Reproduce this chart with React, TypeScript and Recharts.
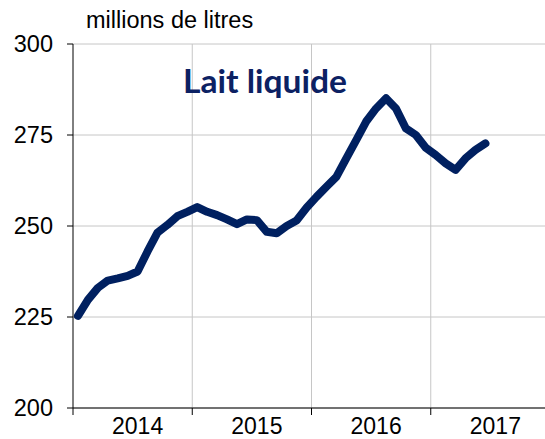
import { CartesianGrid, Line, LineChart, ReferenceLine, XAxis, YAxis } from "recharts"

// monthly volumes, Jan 2014 -> Jun 2017
const months = [
  "2014-01", "2014-02", "2014-03", "2014-04", "2014-05", "2014-06",
  "2014-07", "2014-08", "2014-09", "2014-10", "2014-11", "2014-12",
  "2015-01", "2015-02", "2015-03", "2015-04", "2015-05", "2015-06",
  "2015-07", "2015-08", "2015-09", "2015-10", "2015-11", "2015-12",
  "2016-01", "2016-02", "2016-03", "2016-04", "2016-05", "2016-06",
  "2016-07", "2016-08", "2016-09", "2016-10", "2016-11", "2016-12",
  "2017-01", "2017-02", "2017-03", "2017-04", "2017-05", "2017-06",
]

const volumes = [
  225.3, 229.7, 233, 235, 235.6, 236.3, 237.5, 243, 248.2, 250.3, 252.7, 253.9,
  255.2, 253.9, 253, 251.8, 250.5, 251.8, 251.6, 248.4, 248, 250, 251.5, 255,
  258, 260.8, 263.5, 268.6, 273.6, 278.7, 282.3, 285.1, 282.3, 276.8, 275, 271.5,
  269.5, 267.2, 265.4, 268.6, 270.9, 272.7,
]

const years = ["2014", "2015", "2016", "2017"]
const yTicks = [200, 225, 250, 275, 300]

const data = months.map((m, i) => ({ month: m, x: i + 0.5, volume: volumes[i] }))

const yearBounds = years.map((_, i) => i * 12).concat([years.length * 12])
const xTicks = [...yearBounds, ...years.map((_, i) => i * 12 + 6)].sort((a, b) => a - b)

const NAVY = "#002060"
const GRID = "#c6c6c6"
const FONT = "'Liberation Sans', Arial, sans-serif"

function YearTick(props: any) {
  const { x, y, payload } = props
  const v = payload.value as number
  if (v % 12 === 0) {
    return <line x1={x} x2={x} y1={y} y2={y + 7} stroke="#000" strokeWidth={1} />
  }
  const label = years[Math.floor(v / 12)]
  return (
    <text x={x + 5} y={y + 26} textAnchor="middle" fontSize={23} fontFamily={FONT} fill="#000">
      {label}
    </text>
  )
}

export default function App() {
  return (
    <div style={{ position: "absolute", left: 0, top: 0, width: 545, height: 439, overflow: "hidden", background: "#fff" }}>
      <LineChart width={552} height={439} data={data} margin={{ top: 44, right: 2, bottom: 0, left: 0 }}>
        <CartesianGrid vertical={false} stroke={GRID} />
        {yearBounds.slice(1, -1).map((b) => (
          <ReferenceLine key={b} x={b} stroke={GRID} />
        ))}
        <XAxis
          dataKey="x"
          type="number"
          domain={[0, 48]}
          ticks={xTicks}
          interval={0}
          tick={<YearTick />}
          tickLine={false}
          tickSize={0}
          tickMargin={0}
          height={31}
          axisLine={{ stroke: "#000" }}
        />
        <YAxis
          domain={[200, 300]}
          ticks={yTicks}
          width={73}
          tickSize={6}
          tickMargin={14}
          axisLine={{ stroke: "#000" }}
          tickLine={{ stroke: "#000" }}
          tick={{ fill: "#000", fontSize: 23.5, fontFamily: FONT }}
        />
        <Line
          type="linear"
          dataKey="volume"
          stroke={NAVY}
          strokeWidth={8}
          strokeLinecap="round"
          strokeLinejoin="round"
          dot={false}
          activeDot={false}
          isAnimationActive={false}
        />
      </LineChart>
      <svg width={545} height={439} style={{ position: "absolute", left: 0, top: 0, pointerEvents: "none" }}>
        <text x={86} y={28} fontSize={23.5} fontFamily={FONT} fill="#000">
          millions de litres
        </text>
        <text
          x={183}
          y={93}
          fontSize={33}
          fontWeight={700}
          fontFamily="Lato, 'Open Sans', sans-serif"
          fill="#0c2163"
          textLength={164}
          lengthAdjust="spacingAndGlyphs"
        >
          Lait liquide
        </text>
      </svg>
    </div>
  )
}
